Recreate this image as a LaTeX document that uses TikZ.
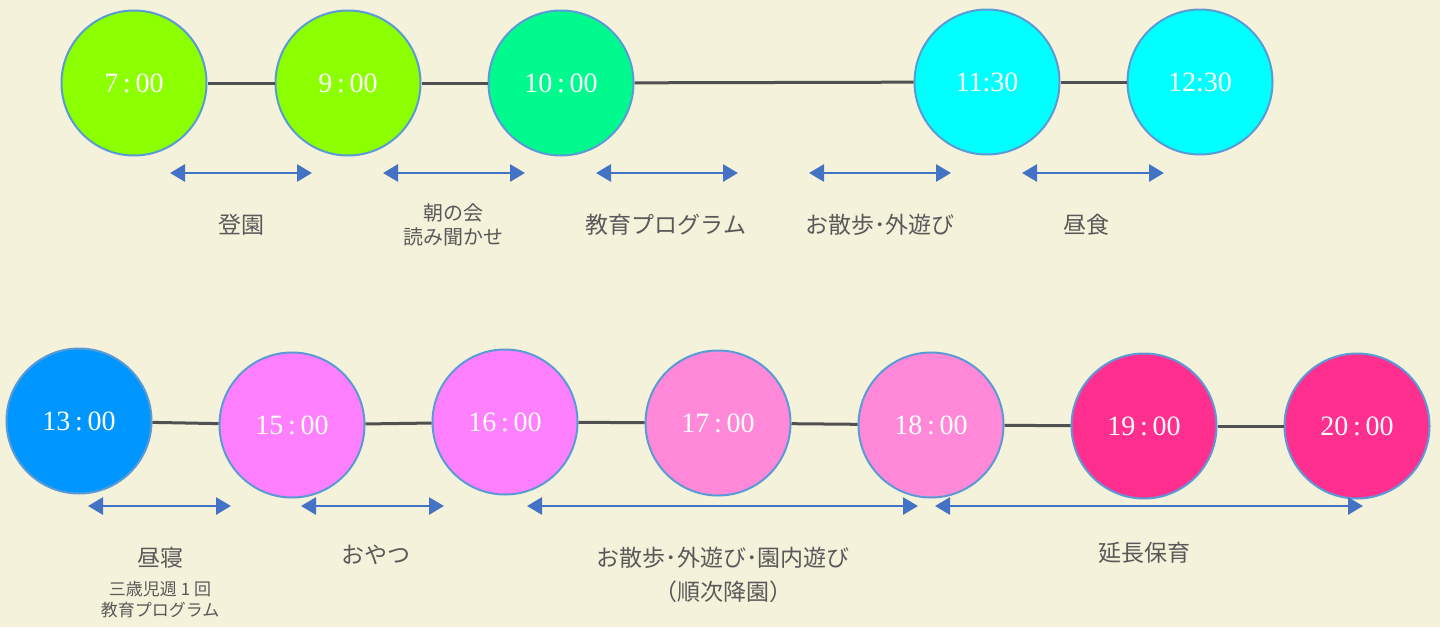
\documentclass[tikz,border=0pt]{standalone}
\usepackage{fontspec}
\setmainfont{Liberation Serif}
\newfontfamily\jp{Noto Sans CJK JP}
\usetikzlibrary{arrows.meta}
\definecolor{bg}{HTML}{F4F2DB}
\definecolor{ring}{HTML}{5B9BD5}
\definecolor{cA}{HTML}{8CFF00}
\definecolor{cB}{HTML}{00FA8E}
\definecolor{cC}{HTML}{00FFFF}
\definecolor{cD}{HTML}{0096FF}
\definecolor{cE}{HTML}{FF80FF}
\definecolor{cF}{HTML}{FF88D8}
\definecolor{cG}{HTML}{FF2F8F}
\definecolor{linkc}{HTML}{505050}
\definecolor{arrc}{HTML}{4472C4}
\definecolor{txt}{HTML}{595959}
\tikzset{
  tnode/.style={circle, draw=ring, line width=2pt, minimum size=145pt, inner sep=0pt, text=white, font=\fontsize{28}{28}\selectfont},
  link/.style={draw=linkc, line width=3pt},
  span/.style={draw=arrc, line width=2.8pt, {Triangle[length=15pt,width=17pt]}-{Triangle[length=15pt,width=17pt]}},
  lbl/.style={text=txt, font=\jp\fontsize{23}{26}\selectfont, align=center, inner sep=0pt},
  lbls/.style={text=txt, font=\jp\fontsize{20}{26}\selectfont, align=center, inner sep=0pt},
  lblxs/.style={text=txt, font=\jp\fontsize{17}{23}\selectfont, align=center, inner sep=0pt}
}
\begin{document}
\begin{tikzpicture}[x=1pt,y=-1pt]
\fill[bg] (0,0) rectangle (1440,627);
\useasboundingbox (0,0) rectangle (1440,627);
% top row nodes
\node[tnode, fill=cA] (n7)  at (134,83) {7\,:\,00};
\node[tnode, fill=cA] (n9)  at (348,83) {9\,:\,00};
\node[tnode, fill=cB] (n10) at (561,83) {10\,:\,00};
\node[tnode, fill=cC] (n11) at (987,82) {11:30};
\node[tnode, fill=cC] (n12) at (1200,82) {12:30};
% bottom row nodes
\node[tnode, fill=cD] (n13) at (79,421) {13\,:\,00};
\node[tnode, fill=cE] (n15) at (292,425) {15\,:\,00};
\node[tnode, fill=cE] (n16) at (505,422) {16\,:\,00};
\node[tnode, fill=cF] (n17) at (718,423) {17\,:\,00};
\node[tnode, fill=cF] (n18) at (931,425) {18\,:\,00};
\node[tnode, fill=cG] (n19) at (1144,426) {19\,:\,00};
\node[tnode, fill=cG] (n20) at (1357,426) {20\,:\,00};
% links
\draw[link] (n7) -- (n9);
\draw[link] (n9) -- (n10);
\draw[link] (n10) -- (n11);
\draw[link] (n11) -- (n12);
\draw[link] (n13) -- (n15);
\draw[link] (n15) -- (n16);
\draw[link] (n16) -- (n17);
\draw[link] (n17) -- (n18);
\draw[link] (n18) -- (n19);
\draw[link] (n19) -- (n20);
% arrow end points
\coordinate (a1s) at (170,173); \coordinate (a1e) at (312,173);
\coordinate (a2s) at (383,173); \coordinate (a2e) at (525,173);
\coordinate (a3s) at (596,173); \coordinate (a3e) at (738,173);
\coordinate (a4s) at (809,173); \coordinate (a4e) at (951,173);
\coordinate (a5s) at (1022,173); \coordinate (a5e) at (1164,173);
\coordinate (b1s) at (88,506); \coordinate (b1e) at (231,506);
\coordinate (b2s) at (301,506); \coordinate (b2e) at (444,506);
\coordinate (b3s) at (527,506); \coordinate (b3e) at (918,506);
\coordinate (b4s) at (935,506); \coordinate (b4e) at (1363,506);
\draw[span] (a1s) -- (a1e);
\draw[span] (a2s) -- (a2e);
\draw[span] (a3s) -- (a3e);
\draw[span] (a4s) -- (a4e);
\draw[span] (a5s) -- (a5e);
\draw[span] (b1s) -- (b1e);
\draw[span] (b2s) -- (b2e);
\draw[span] (b3s) -- (b3e);
\draw[span] (b4s) -- (b4e);
% labels
\node[lbl]  (t1) at (241,225) {登園};
\node[lbls] (t2) at (453,225) {朝の会\\[-2pt]読み聞かせ};
\node[lbl]  (t3) at (666,225) {教育プログラム};
\node[lbl]  (t4) at (880,225) {お散歩･外遊び};
\node[lbl]  (t5) at (1086,225) {昼食};
\node[lbl]  (u1) at (160,558) {昼寝};
\node[lblxs] (u1b) at (160,600) {三歳児週 1 回\\[-2pt]教育プログラム};
\node[lbl]  (u2) at (376,555) {おやつ};
\node[lbl]  (u3) at (723,575) {お散歩･外遊び･園内遊び\\[8pt]（順次降園）};
\node[lbl]  (u4) at (1144,553) {延長保育};
\end{tikzpicture}
\end{document}
